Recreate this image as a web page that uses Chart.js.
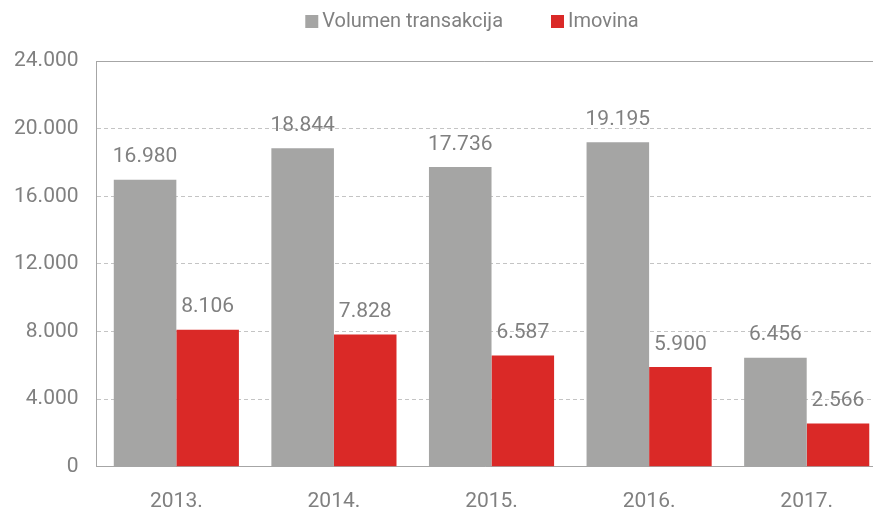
<!DOCTYPE html>
<html>
<head>
<meta charset="utf-8">
<script src="https://cdn.jsdelivr.net/npm/chart.js@4/dist/chart.umd.min.js"></script>
<style>
  html, body { margin: 0; padding: 0; background: #fff; }
  #wrap { width: 873px; height: 509px; }
</style>
</head>
<body>
<div id="wrap"><canvas id="myChart"></canvas></div>
<script>
const years = ['2013.', '2014.', '2015.', '2016.', '2017.'];
const volumen = [16980, 18844, 17736, 19195, 6456];
const imovina = [8106, 7828, 6587, 5900, 2566];
const yTicks = [0, 4000, 8000, 12000, 16000, 20000, 24000];

const txtColor = '#808080';
const fmt = v => v === 0 ? '0' : v.toLocaleString('de-DE');

// legend drawn at the top, value labels above bars, solid top line
const extras = {
  id: 'extras',
  afterLayout(chart) {
    // the original plot runs a little past the right edge of the picture
    const x = chart.scales.x;
    x.left += 1;
    x.right += 12.5;
    x.width = x.right - x.left;
    x.configure();
  },
  afterDraw(chart) {
    const ctx = chart.ctx;
    ctx.save();

    // legend
    ctx.font = '20px Roboto';
    ctx.textBaseline = 'middle';
    ctx.textAlign = 'left';
    const box = 13, gapBox = 4, gapItem = 48;
    const items = chart.data.datasets.map(ds => ({ text: ds.label, color: ds.backgroundColor, w: ctx.measureText(ds.label).width }));
    const total = items.reduce((s, it) => s + box + gapBox + it.w, 0) + gapItem * (items.length - 1);
    let x = 472 - total / 2;
    items.forEach(it => {
      ctx.fillStyle = it.color;
      ctx.fillRect(x, 15, box, box);
      ctx.fillStyle = txtColor;
      ctx.fillText(it.text, x + box + gapBox, 22);
      x += box + gapBox + it.w + gapItem;
    });

    // value labels
    ctx.font = '21px Roboto';
    ctx.textAlign = 'center';
    ctx.textBaseline = 'bottom';
    chart.data.datasets.forEach((ds, i) => {
      chart.getDatasetMeta(i).data.forEach((bar, j) => {
        ctx.fillText(fmt(ds.data[j]), bar.x, bar.y - 12);
      });
    });

    const y = chart.scales.y;
    const top = Math.round(y.getPixelForValue(24000));
    ctx.strokeStyle = '#a6a6a6';
    ctx.lineWidth = 1;
    ctx.beginPath();
    ctx.moveTo(chart.chartArea.left, top + 0.5);
    ctx.lineTo(chart.chartArea.right, top + 0.5);
    ctx.stroke();
    ctx.restore();
  }
};

const data = {
  labels: years,
  datasets: [
    {
      label: 'Volumen transakcija',
      backgroundColor: '#a5a5a4',
      data: volumen
    },
    {
      label: 'Imovina',
      backgroundColor: '#da2927',
      data: imovina
    }
  ]
};

const config = {
  type: 'bar',
  data: data,
  options: {
    responsive: true,
    maintainAspectRatio: false,
    animation: false,
    layout: { padding: { left: -4, right: -15, top: 61, bottom: -27 } },
    datasets: { bar: { categoryPercentage: 0.794, barPercentage: 1.0 } },
    plugins: {
      legend: { display: false },
      tooltip: { enabled: false }
    },
    scales: {
      x: {
        grid: { display: false, drawTicks: false },
        border: { display: true, color: '#a6a6a6', width: 1 },
        ticks: { color: txtColor, font: { family: 'Roboto', size: 21 }, padding: 22 }
      },
      y: {
        min: 0,
        max: 24000,
        afterBuildTicks: axis => { axis.ticks = yTicks.map(v => ({ value: v })); },
        grid: { color: '#c4c4c4', drawTicks: false },
        border: { display: true, color: '#a6a6a6', width: 1, dash: [4, 3] },
        ticks: { color: txtColor, font: { family: 'Roboto', size: 21 }, padding: 18, callback: v => fmt(v) }
      }
    }
  },
  plugins: [extras]
};

const myChart = new Chart(document.getElementById('myChart'), config);
</script>
</body>
</html>
